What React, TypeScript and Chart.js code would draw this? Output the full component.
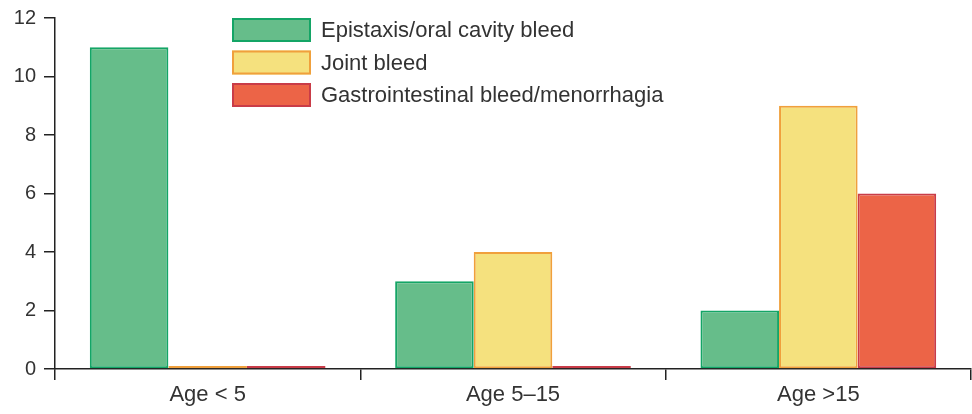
import React, { useEffect, useRef } from "react";
import { Chart, registerables } from "chart.js";

Chart.register(...registerables);

const categories = ["Age < 5", "Age 5–15", "Age >15"];
const epistaxis = [11, 3, 2];
const joint = [0, 4, 9];
const gastro = [0, 0, 6];
const seriesNames = [
  "Epistaxis/oral cavity bleed",
  "Joint bleed",
  "Gastrointestinal bleed/menorrhagia",
];
const yTicks = [0, 2, 4, 6, 8, 10, 12];

const FONT = "'Liberation Sans', Arial, sans-serif";
const TEXT = "#333333";
const AXIS = "#222222";

const legendPlugin = {
  id: "customLegend",
  afterDraw(chart: any) {
    const { ctx, chartArea } = chart;
    const x0 = chartArea.left + 177;
    const y0 = chartArea.top;
    const boxW = 79;
    const boxH = 24;
    const step = 32.5;
    ctx.save();
    chart.data.datasets.forEach((ds: any, i: number) => {
      const y = y0 + i * step;
      ctx.fillStyle = ds.backgroundColor;
      ctx.fillRect(x0, y, boxW, boxH);
      ctx.strokeStyle = ds.borderColor;
      ctx.lineWidth = 2;
      ctx.strokeRect(x0 + 1, y + 1, boxW - 2, boxH - 2);
      ctx.fillStyle = TEXT;
      ctx.font = `22px ${FONT}`;
      ctx.textBaseline = "middle";
      ctx.textAlign = "left";
      ctx.fillText(ds.label, x0 + boxW + 10, y + boxH / 2 + 1);
    });
    ctx.restore();
  },
};

export default function App() {
  const ref = useRef<HTMLCanvasElement | null>(null);

  useEffect(() => {
    if (!ref.current) return;
    const common = {
      borderWidth: 2,
      borderSkipped: false,
      minBarLength: 3,
      barPercentage: 1,
      categoryPercentage: 0.772,
    };
    const chart = new Chart(ref.current, {
      type: "bar",
      data: {
        labels: categories,
        datasets: [
          {
            label: seriesNames[0],
            data: epistaxis,
            backgroundColor: "#66BD8A",
            borderColor: "#14A566",
            ...common,
          },
          {
            label: seriesNames[1],
            data: joint,
            backgroundColor: "#F5E17E",
            borderColor: "#F0A03C",
            ...common,
          },
          {
            label: seriesNames[2],
            data: gastro,
            backgroundColor: "#EC6447",
            borderColor: "#C93C48",
            ...common,
          },
        ],
      },
      options: {
        animation: false,
        responsive: false,
        maintainAspectRatio: false,
        layout: { padding: { top: 18, right: 1, left: 0, bottom: 0 } },
        plugins: {
          legend: { display: false },
          tooltip: { enabled: false },
        },
        scales: {
          x: {
            grid: {
              offset: true,
              drawOnChartArea: false,
              drawTicks: true,
              tickLength: 11,
              color: AXIS,
              lineWidth: 1.5,
            },
            border: { display: true, color: AXIS, width: 1.5 },
            ticks: {
              color: TEXT,
              font: { family: FONT, size: 22 },
              padding: 2,
            },
            afterFit(scale: any) {
              scale.height = 45;
            },
          },
          y: {
            min: 0,
            max: 12,
            afterBuildTicks(scale: any) {
              scale.ticks = yTicks.map((v) => ({ value: v }));
            },
            grid: {
              drawOnChartArea: false,
              drawTicks: true,
              tickLength: 11,
              color: AXIS,
              lineWidth: 1.5,
            },
            border: { display: true, color: AXIS, width: 1.5 },
            ticks: {
              color: TEXT,
              font: { family: FONT, size: 20 },
              padding: 8,
            },
            afterFit(scale: any) {
              scale.width = 55;
              scale.paddingTop = 0;
              scale.paddingBottom = 0;
            },
          },
        },
      },
      plugins: [legendPlugin],
    } as any);
    return () => chart.destroy();
  }, []);

  return (
    <div style={{ position: "absolute", left: 0, top: 0, width: 972, height: 414 }}>
      <canvas ref={ref} width={972} height={414} style={{ width: 972, height: 414 }} />
    </div>
  );
}
